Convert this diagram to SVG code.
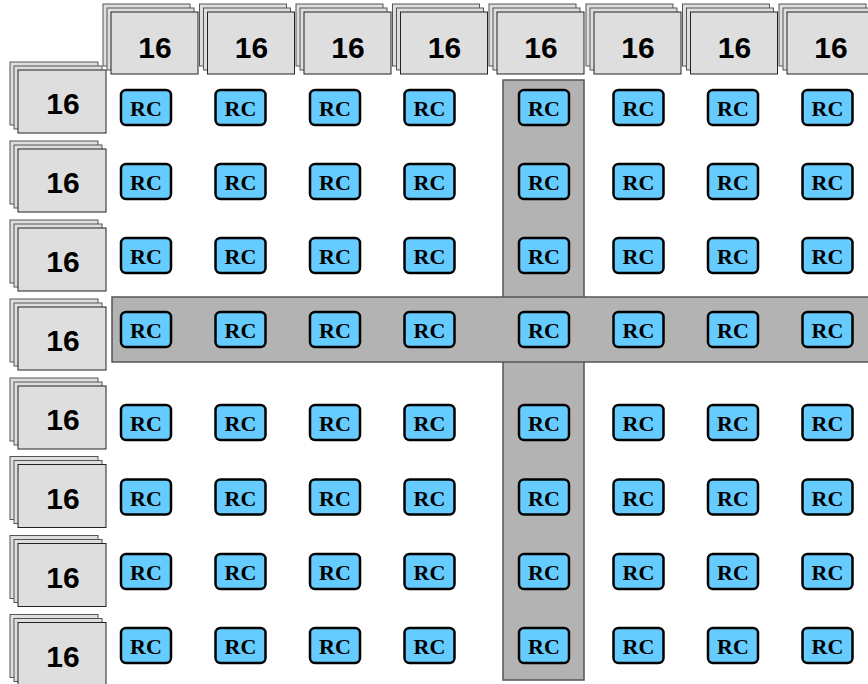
<svg xmlns="http://www.w3.org/2000/svg" xmlns:xlink="http://www.w3.org/1999/xlink" width="868" height="684" viewBox="0 0 868 684">
<style>
.band{fill:#b3b3b3;stroke:#555;stroke-width:1.5}
.hb{fill:#dedede;stroke:#222;stroke-width:1}
.hb2{fill:#dedede;stroke:#555;stroke-width:1}
.ht{font-family:"Liberation Sans",Arial,sans-serif;font-weight:bold;font-size:30px;fill:#000;text-anchor:middle}
.rc{fill:#66ccff;stroke:#000;stroke-width:2.5}
.rt{font-family:"Liberation Serif","Times New Roman",serif;font-weight:bold;font-size:22px;fill:#000;text-anchor:middle}
</style>
<defs>
<g id="stackT">
<rect class="hb2" x="-8" y="-8" width="87" height="62"/>
<rect class="hb2" x="-4" y="-4" width="87" height="62"/>
<rect class="hb" x="0" y="0" width="87" height="62"/>
</g>
<g id="stackL">
<rect class="hb2" x="-8" y="-8" width="88" height="63"/>
<rect class="hb2" x="-4" y="-4" width="88" height="63"/>
<rect class="hb" x="0" y="0" width="88" height="63"/>
</g>
<rect id="rcbox" class="rc" x="0" y="0" width="50" height="35" rx="5"/>
</defs>
<rect width="868" height="684" fill="#fff"/>
<g id="highlight-column"><rect class="band" x="503" y="80" width="81" height="600"/></g>
<g id="highlight-row"><rect class="band" x="112" y="297" width="760" height="65"/></g>
<g id="connectors"/>
<g id="top-headers">
<g id="col0"><use xlink:href="#stackT" x="111" y="12"/><text class="ht" x="155" y="57.5">16</text></g>
<g id="col1"><use xlink:href="#stackT" x="207.5" y="12"/><text class="ht" x="251.5" y="57.5">16</text></g>
<g id="col2"><use xlink:href="#stackT" x="304" y="12"/><text class="ht" x="348" y="57.5">16</text></g>
<g id="col3"><use xlink:href="#stackT" x="400.5" y="12"/><text class="ht" x="444.5" y="57.5">16</text></g>
<g id="col4"><use xlink:href="#stackT" x="497" y="12"/><text class="ht" x="541" y="57.5">16</text></g>
<g id="col5"><use xlink:href="#stackT" x="594" y="12"/><text class="ht" x="638" y="57.5">16</text></g>
<g id="col6"><use xlink:href="#stackT" x="690.5" y="12"/><text class="ht" x="734.5" y="57.5">16</text></g>
<g id="col7"><use xlink:href="#stackT" x="787" y="12"/><text class="ht" x="831" y="57.5">16</text></g>
</g>
<g id="left-headers">
<g id="row0"><use xlink:href="#stackL" x="18" y="70"/><text class="ht" x="63" y="114">16</text></g>
<g id="row1"><use xlink:href="#stackL" x="18" y="149"/><text class="ht" x="63" y="193">16</text></g>
<g id="row2"><use xlink:href="#stackL" x="18" y="228"/><text class="ht" x="63" y="272">16</text></g>
<g id="row3"><use xlink:href="#stackL" x="18" y="307"/><text class="ht" x="63" y="351">16</text></g>
<g id="row4"><use xlink:href="#stackL" x="18" y="386"/><text class="ht" x="63" y="430">16</text></g>
<g id="row5"><use xlink:href="#stackL" x="18" y="464.5"/><text class="ht" x="63" y="508.5">16</text></g>
<g id="row6"><use xlink:href="#stackL" x="18" y="543.5"/><text class="ht" x="63" y="587.5">16</text></g>
<g id="row7"><use xlink:href="#stackL" x="18" y="622.5"/><text class="ht" x="63" y="666.5">16</text></g>
</g>
<g id="rc-grid">
<g id="rc-0-0"><use xlink:href="#rcbox" x="121" y="90"/><text class="rt" x="146" y="116">RC</text></g>
<g id="rc-0-1"><use xlink:href="#rcbox" x="215.5" y="90"/><text class="rt" x="240.5" y="116">RC</text></g>
<g id="rc-0-2"><use xlink:href="#rcbox" x="310" y="90"/><text class="rt" x="335" y="116">RC</text></g>
<g id="rc-0-3"><use xlink:href="#rcbox" x="404.5" y="90"/><text class="rt" x="429.5" y="116">RC</text></g>
<g id="rc-0-4"><use xlink:href="#rcbox" x="519" y="90"/><text class="rt" x="544" y="116">RC</text></g>
<g id="rc-0-5"><use xlink:href="#rcbox" x="613.5" y="90"/><text class="rt" x="638.5" y="116">RC</text></g>
<g id="rc-0-6"><use xlink:href="#rcbox" x="708" y="90"/><text class="rt" x="733" y="116">RC</text></g>
<g id="rc-0-7"><use xlink:href="#rcbox" x="802.5" y="90"/><text class="rt" x="827.5" y="116">RC</text></g>

<g id="rc-1-0"><use xlink:href="#rcbox" x="121" y="164"/><text class="rt" x="146" y="190">RC</text></g>
<g id="rc-1-1"><use xlink:href="#rcbox" x="215.5" y="164"/><text class="rt" x="240.5" y="190">RC</text></g>
<g id="rc-1-2"><use xlink:href="#rcbox" x="310" y="164"/><text class="rt" x="335" y="190">RC</text></g>
<g id="rc-1-3"><use xlink:href="#rcbox" x="404.5" y="164"/><text class="rt" x="429.5" y="190">RC</text></g>
<g id="rc-1-4"><use xlink:href="#rcbox" x="519" y="164"/><text class="rt" x="544" y="190">RC</text></g>
<g id="rc-1-5"><use xlink:href="#rcbox" x="613.5" y="164"/><text class="rt" x="638.5" y="190">RC</text></g>
<g id="rc-1-6"><use xlink:href="#rcbox" x="708" y="164"/><text class="rt" x="733" y="190">RC</text></g>
<g id="rc-1-7"><use xlink:href="#rcbox" x="802.5" y="164"/><text class="rt" x="827.5" y="190">RC</text></g>

<g id="rc-2-0"><use xlink:href="#rcbox" x="121" y="238"/><text class="rt" x="146" y="264">RC</text></g>
<g id="rc-2-1"><use xlink:href="#rcbox" x="215.5" y="238"/><text class="rt" x="240.5" y="264">RC</text></g>
<g id="rc-2-2"><use xlink:href="#rcbox" x="310" y="238"/><text class="rt" x="335" y="264">RC</text></g>
<g id="rc-2-3"><use xlink:href="#rcbox" x="404.5" y="238"/><text class="rt" x="429.5" y="264">RC</text></g>
<g id="rc-2-4"><use xlink:href="#rcbox" x="519" y="238"/><text class="rt" x="544" y="264">RC</text></g>
<g id="rc-2-5"><use xlink:href="#rcbox" x="613.5" y="238"/><text class="rt" x="638.5" y="264">RC</text></g>
<g id="rc-2-6"><use xlink:href="#rcbox" x="708" y="238"/><text class="rt" x="733" y="264">RC</text></g>
<g id="rc-2-7"><use xlink:href="#rcbox" x="802.5" y="238"/><text class="rt" x="827.5" y="264">RC</text></g>

<g id="rc-3-0"><use xlink:href="#rcbox" x="121" y="312"/><text class="rt" x="146" y="338">RC</text></g>
<g id="rc-3-1"><use xlink:href="#rcbox" x="215.5" y="312"/><text class="rt" x="240.5" y="338">RC</text></g>
<g id="rc-3-2"><use xlink:href="#rcbox" x="310" y="312"/><text class="rt" x="335" y="338">RC</text></g>
<g id="rc-3-3"><use xlink:href="#rcbox" x="404.5" y="312"/><text class="rt" x="429.5" y="338">RC</text></g>
<g id="rc-3-4"><use xlink:href="#rcbox" x="519" y="312"/><text class="rt" x="544" y="338">RC</text></g>
<g id="rc-3-5"><use xlink:href="#rcbox" x="613.5" y="312"/><text class="rt" x="638.5" y="338">RC</text></g>
<g id="rc-3-6"><use xlink:href="#rcbox" x="708" y="312"/><text class="rt" x="733" y="338">RC</text></g>
<g id="rc-3-7"><use xlink:href="#rcbox" x="802.5" y="312"/><text class="rt" x="827.5" y="338">RC</text></g>

<g id="rc-4-0"><use xlink:href="#rcbox" x="121" y="405"/><text class="rt" x="146" y="431">RC</text></g>
<g id="rc-4-1"><use xlink:href="#rcbox" x="215.5" y="405"/><text class="rt" x="240.5" y="431">RC</text></g>
<g id="rc-4-2"><use xlink:href="#rcbox" x="310" y="405"/><text class="rt" x="335" y="431">RC</text></g>
<g id="rc-4-3"><use xlink:href="#rcbox" x="404.5" y="405"/><text class="rt" x="429.5" y="431">RC</text></g>
<g id="rc-4-4"><use xlink:href="#rcbox" x="519" y="405"/><text class="rt" x="544" y="431">RC</text></g>
<g id="rc-4-5"><use xlink:href="#rcbox" x="613.5" y="405"/><text class="rt" x="638.5" y="431">RC</text></g>
<g id="rc-4-6"><use xlink:href="#rcbox" x="708" y="405"/><text class="rt" x="733" y="431">RC</text></g>
<g id="rc-4-7"><use xlink:href="#rcbox" x="802.5" y="405"/><text class="rt" x="827.5" y="431">RC</text></g>

<g id="rc-5-0"><use xlink:href="#rcbox" x="121" y="479.5"/><text class="rt" x="146" y="505.5">RC</text></g>
<g id="rc-5-1"><use xlink:href="#rcbox" x="215.5" y="479.5"/><text class="rt" x="240.5" y="505.5">RC</text></g>
<g id="rc-5-2"><use xlink:href="#rcbox" x="310" y="479.5"/><text class="rt" x="335" y="505.5">RC</text></g>
<g id="rc-5-3"><use xlink:href="#rcbox" x="404.5" y="479.5"/><text class="rt" x="429.5" y="505.5">RC</text></g>
<g id="rc-5-4"><use xlink:href="#rcbox" x="519" y="479.5"/><text class="rt" x="544" y="505.5">RC</text></g>
<g id="rc-5-5"><use xlink:href="#rcbox" x="613.5" y="479.5"/><text class="rt" x="638.5" y="505.5">RC</text></g>
<g id="rc-5-6"><use xlink:href="#rcbox" x="708" y="479.5"/><text class="rt" x="733" y="505.5">RC</text></g>
<g id="rc-5-7"><use xlink:href="#rcbox" x="802.5" y="479.5"/><text class="rt" x="827.5" y="505.5">RC</text></g>

<g id="rc-6-0"><use xlink:href="#rcbox" x="121" y="554"/><text class="rt" x="146" y="580">RC</text></g>
<g id="rc-6-1"><use xlink:href="#rcbox" x="215.5" y="554"/><text class="rt" x="240.5" y="580">RC</text></g>
<g id="rc-6-2"><use xlink:href="#rcbox" x="310" y="554"/><text class="rt" x="335" y="580">RC</text></g>
<g id="rc-6-3"><use xlink:href="#rcbox" x="404.5" y="554"/><text class="rt" x="429.5" y="580">RC</text></g>
<g id="rc-6-4"><use xlink:href="#rcbox" x="519" y="554"/><text class="rt" x="544" y="580">RC</text></g>
<g id="rc-6-5"><use xlink:href="#rcbox" x="613.5" y="554"/><text class="rt" x="638.5" y="580">RC</text></g>
<g id="rc-6-6"><use xlink:href="#rcbox" x="708" y="554"/><text class="rt" x="733" y="580">RC</text></g>
<g id="rc-6-7"><use xlink:href="#rcbox" x="802.5" y="554"/><text class="rt" x="827.5" y="580">RC</text></g>

<g id="rc-7-0"><use xlink:href="#rcbox" x="121" y="628"/><text class="rt" x="146" y="654">RC</text></g>
<g id="rc-7-1"><use xlink:href="#rcbox" x="215.5" y="628"/><text class="rt" x="240.5" y="654">RC</text></g>
<g id="rc-7-2"><use xlink:href="#rcbox" x="310" y="628"/><text class="rt" x="335" y="654">RC</text></g>
<g id="rc-7-3"><use xlink:href="#rcbox" x="404.5" y="628"/><text class="rt" x="429.5" y="654">RC</text></g>
<g id="rc-7-4"><use xlink:href="#rcbox" x="519" y="628"/><text class="rt" x="544" y="654">RC</text></g>
<g id="rc-7-5"><use xlink:href="#rcbox" x="613.5" y="628"/><text class="rt" x="638.5" y="654">RC</text></g>
<g id="rc-7-6"><use xlink:href="#rcbox" x="708" y="628"/><text class="rt" x="733" y="654">RC</text></g>
<g id="rc-7-7"><use xlink:href="#rcbox" x="802.5" y="628"/><text class="rt" x="827.5" y="654">RC</text></g>
</g>
</svg>
